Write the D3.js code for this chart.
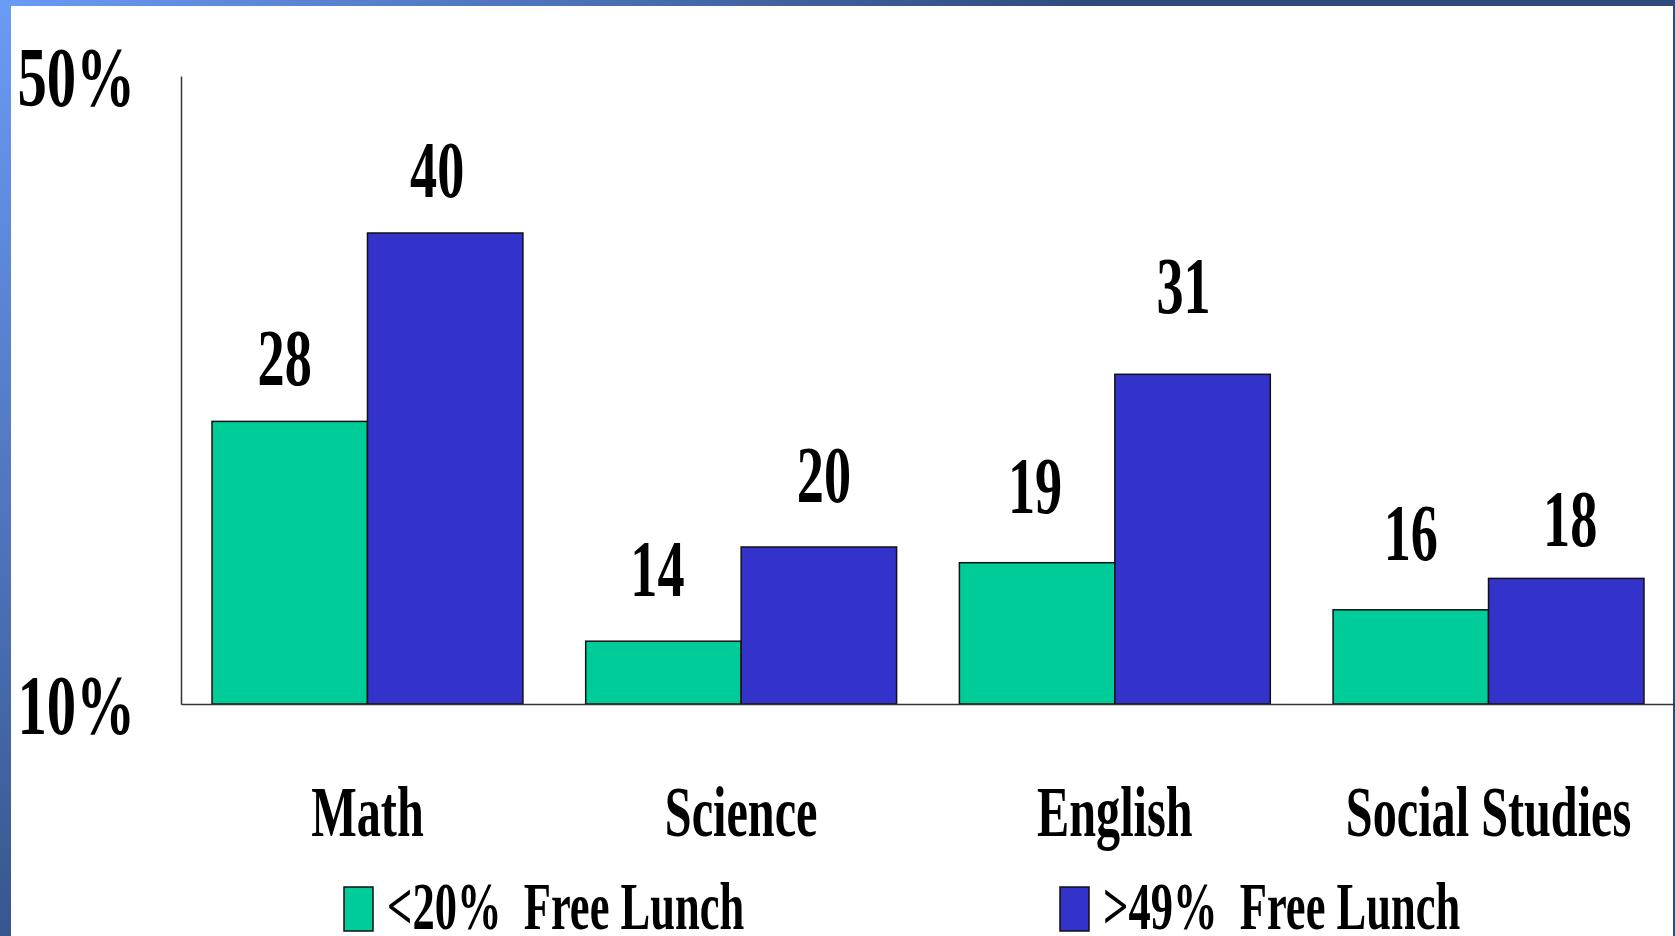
<!DOCTYPE html>
<html>
<head>
<meta charset="utf-8">
<script src="https://cdn.jsdelivr.net/npm/d3@7"></script>
<style>
  html, body { margin: 0; padding: 0; overflow: hidden; background: #fff; }
  text { font-family: "Liberation Serif", "Times New Roman", serif; font-weight: bold; fill: #000; }
</style>
</head>
<body>
<svg id="chart"></svg>
<script>
// Data
const subjects = ["Math", "Science", "English", "Social Studies"];
const lowLunch = [28, 14, 19, 16];     // <20% free lunch schools
const highLunch = [40, 20, 31, 18];    // >49% free lunch schools
const seriesNames = ["<20%  Free Lunch", ">49%  Free Lunch"];
const yTicks = [10, 50];

// hand placed value labels on the original slide: [dx, gap above bar]
const lowNudge = [[-5, 36], [-6, 45], [-2, 50], [0, 50]];
const highNudge = [[-8, 36], [5, 45], [-9, 61], [4, 32]];

const W = 1675, H = 936;
const squeeze = 0.67; // the slide font is horizontally condensed
const colors = ["#00CC99", "#3333CC"];

const svg = d3.select("#chart").attr("width", W).attr("height", H);

// blue slide frame
const defs = svg.append("defs");
const grad = defs.append("radialGradient")
    .attr("id", "frame")
    .attr("gradientUnits", "userSpaceOnUse")
    .attr("cx", 0).attr("cy", 0).attr("r", 1100);
grad.append("stop").attr("offset", "0%").attr("stop-color", "#6A9BF6");
grad.append("stop").attr("offset", "100%").attr("stop-color", "#2F4A7C");

svg.append("rect").attr("width", W).attr("height", H).attr("fill", "url(#frame)");
svg.append("rect").attr("x", 11).attr("y", 6).attr("width", W - 13).attr("height", H).attr("fill", "#fff");

const x = d3.scaleBand()
    .domain(subjects)
    .range([181, 1675])
    .paddingInner(0.168)
    .paddingOuter(0.083);

const xSub = d3.scaleBand()
    .domain([0, 1])
    .range([0, x.bandwidth()]);

const y = d3.scaleLinear().domain([10, 50]).range([704, 76]);

// y axis
const yAxis = svg.append("g")
    .attr("transform", "translate(181,0)")
    .call(d3.axisLeft(y).tickValues(yTicks).tickSize(0).tickSizeOuter(0).tickFormat(d => d + "%"));
yAxis.select(".domain").attr("stroke", "#333").attr("stroke-width", 1.5);
yAxis.selectAll(".tick text")
    .attr("x", 0)
    .attr("dy", "0.35em")
    .attr("transform", "translate(-46,0) scale(0.70,1)")
    .style("font-family", "'Liberation Serif', 'Times New Roman', serif")
    .style("font-weight", "bold")
    .style("font-size", "84px")
    .attr("fill", "#000");

// bars
const rows = subjects.map((s, i) => ({ subject: s, values: [lowLunch[i], highLunch[i]], i }));

const groups = svg.append("g").selectAll("g")
    .data(rows)
    .join("g")
    .attr("transform", d => `translate(${x(d.subject)},0)`);

groups.selectAll("rect")
    .data(d => d.values.map((v, k) => ({ v, k })))
    .join("rect")
    .attr("x", d => xSub(d.k))
    .attr("y", d => y(d.v))
    .attr("width", xSub.bandwidth())
    .attr("height", d => y(10) - y(d.v))
    .attr("fill", d => colors[d.k])
    .attr("stroke", "#111")
    .attr("stroke-width", 1.5);

// value labels
groups.selectAll("text.val")
    .data(d => d.values.map((v, k) => ({ v, k, nudge: (k === 0 ? lowNudge : highNudge)[d.i] })))
    .join("text")
    .attr("class", "val")
    .attr("text-anchor", "middle")
    .attr("font-size", 81)
    .attr("transform", d => `translate(${xSub(d.k) + xSub.bandwidth() / 2 + d.nudge[0]},${y(d.v) - d.nudge[1]}) scale(${squeeze},1)`)
    .text(d => d.v);

// x axis
const xAxis = svg.append("g")
    .attr("transform", `translate(0,${y(10)})`)
    .call(d3.axisBottom(x).tickSize(0).tickSizeOuter(0));
xAxis.select(".domain").attr("stroke", "#333").attr("stroke-width", 1.5);
xAxis.selectAll(".tick text")
    .attr("y", 0)
    .attr("dy", 0)
    .attr("transform", `translate(0,132) scale(${squeeze},1)`)
    .style("font-family", "'Liberation Serif', 'Times New Roman', serif")
    .style("font-weight", "bold")
    .style("font-size", "72px")
    .attr("fill", "#000");

// legend
const legendX = [344, 1060];
const legend = svg.append("g").selectAll("g")
    .data(seriesNames)
    .join("g")
    .attr("transform", (d, i) => `translate(${legendX[i]},887)`);

legend.append("rect")
    .attr("width", 29)
    .attr("height", 44)
    .attr("fill", (d, i) => colors[i])
    .attr("stroke", "#111")
    .attr("stroke-width", 1.5);

legend.append("text")
    .attr("font-size", 68)
    .attr("transform", "translate(43,42) scale(0.655,1)")
    .style("white-space", "pre")
    .text(d => d);
</script>
</body>
</html>
